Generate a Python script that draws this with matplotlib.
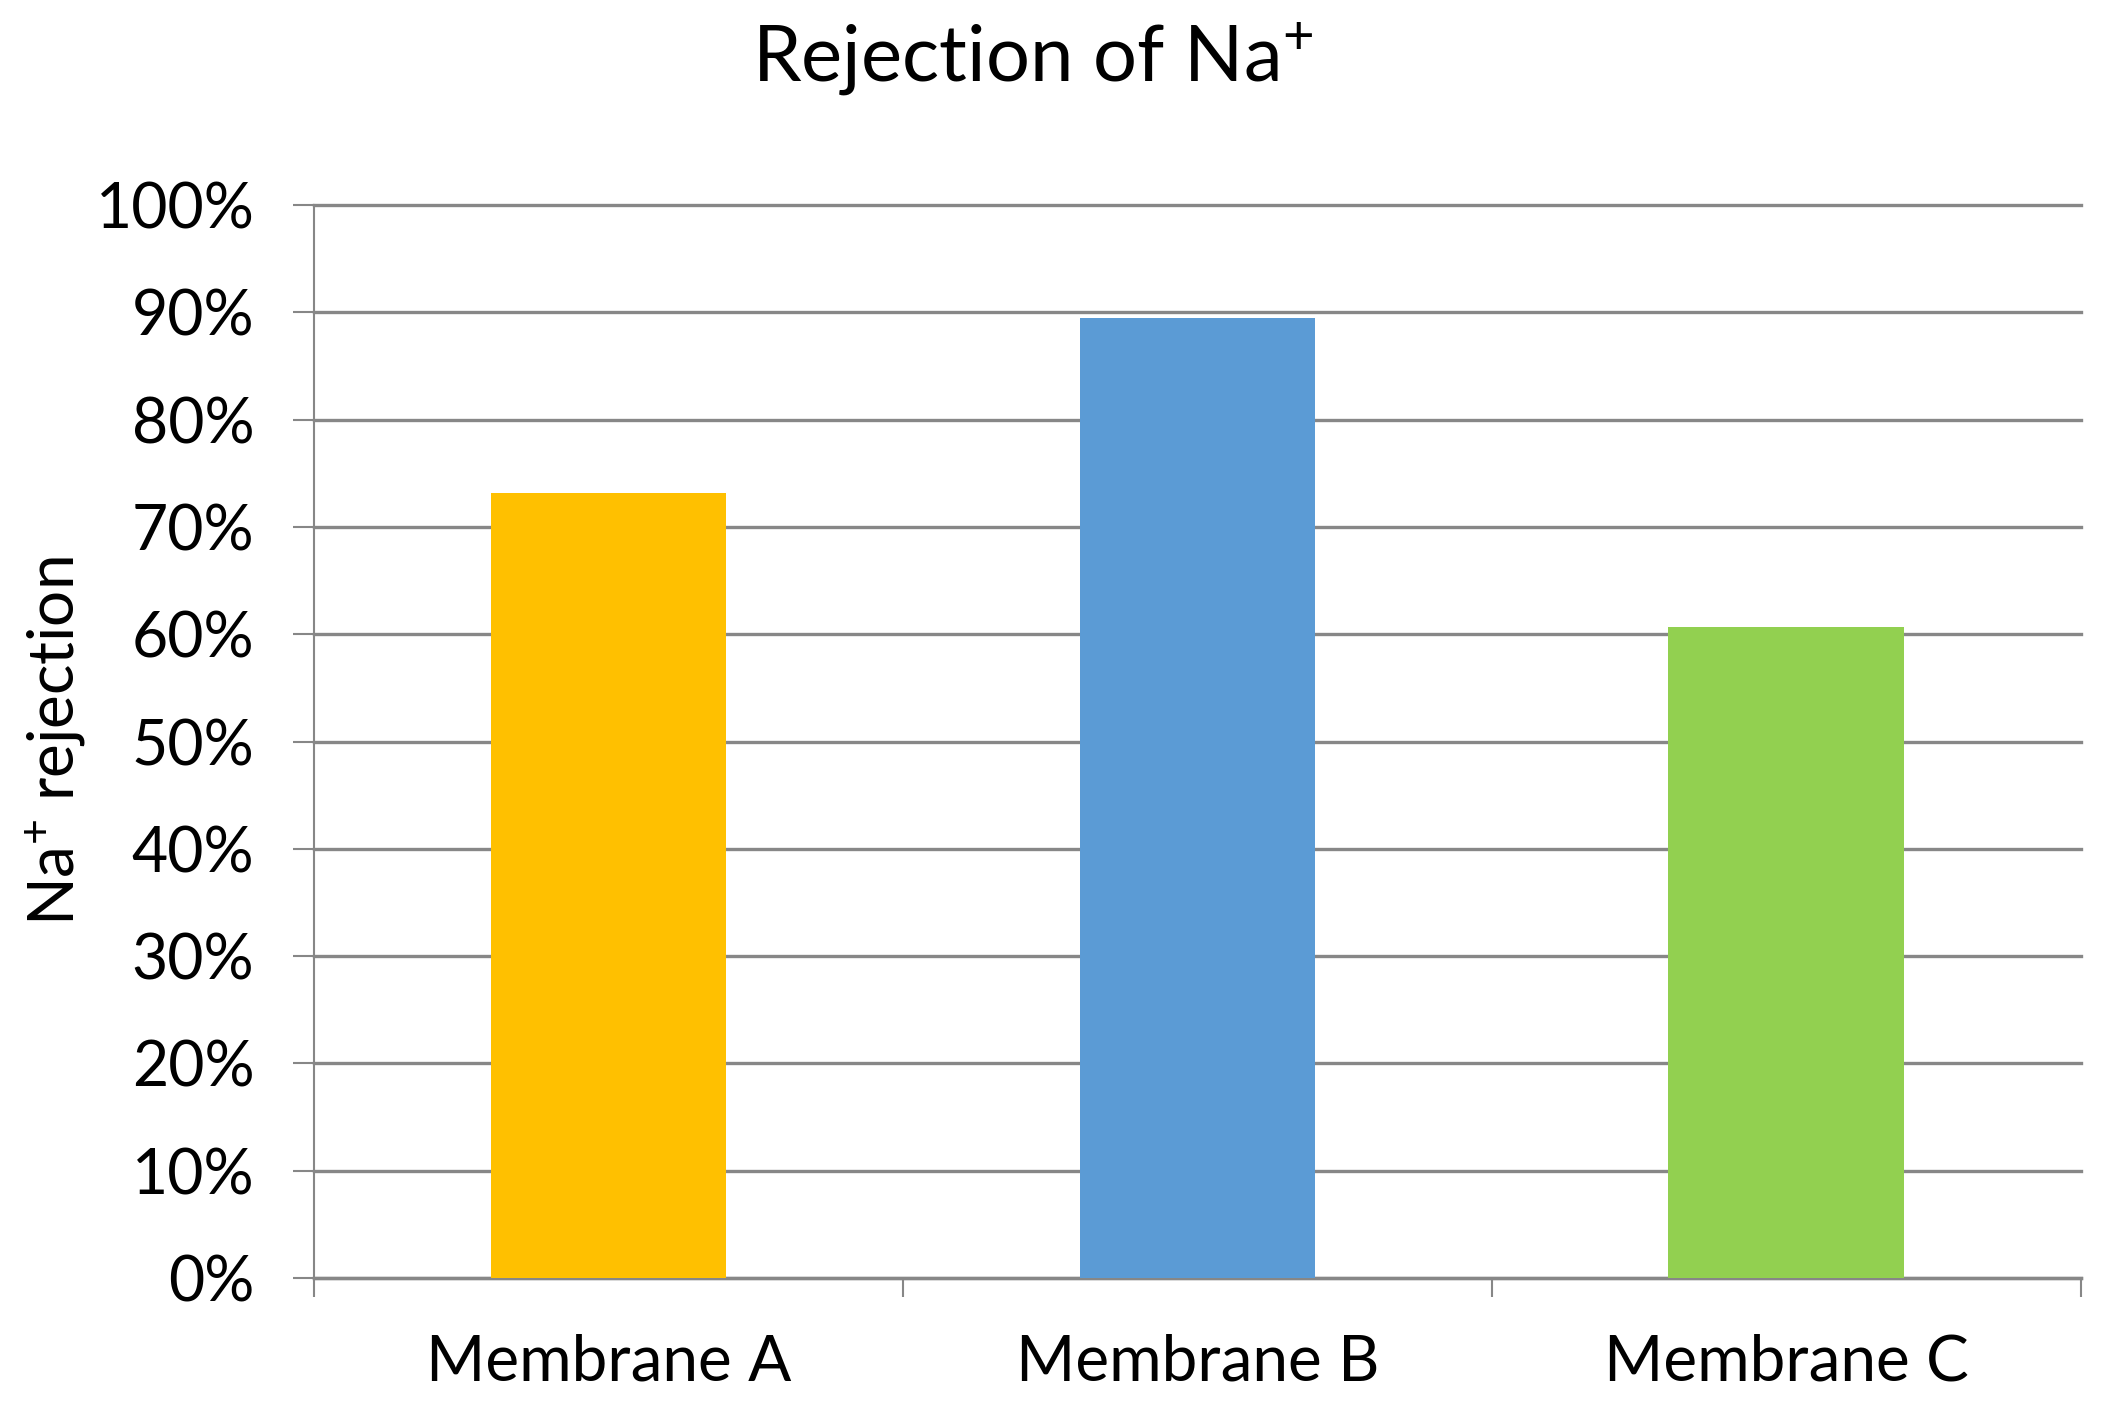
import numpy as np
import matplotlib as mpl
mpl.use("Agg")
import matplotlib.pyplot as plt
from matplotlib.ticker import FuncFormatter

mpl.rcParams.update({
    "font.family": ["Lato", "DejaVu Sans"],
    "mathtext.fontset": "custom", "mathtext.rm": "Lato", "mathtext.it": "Lato",
})

# data
membranes = ["Membrane A", "Membrane B", "Membrane C"]
rejection = [0.732, 0.895, 0.607]
bar_colors = ["#FFC000", "#5B9BD5", "#92D050"]
yticks = np.arange(0, 1.01, 0.1)

GRID = "#878787"

fig = plt.figure(figsize=(21.08, 14.08), dpi=100)
ax = fig.add_axes([0.149, 0.0923, 0.838, 0.7621])

x = np.arange(len(membranes))
ax.bar(x, rejection, 0.4, color=bar_colors, zorder=3)
for t in yticks:
    ax.axhline(t, color=GRID, lw=2.4, zorder=1, clip_on=False)

ax.set_xlim(-0.5, len(membranes) - 0.5)
ax.set_ylim(0, 1.0)
ax.set_yticks(yticks)
ax.yaxis.set_major_formatter(FuncFormatter(lambda v, _: f"{v*100:.0f}%"))
ax.tick_params(axis="y", direction="out", length=15, width=1.5, color=GRID, pad=28, labelsize=45)

ax.set_xticks(x)
ax.set_xticklabels(membranes)
ax.set_xticks(np.arange(-0.5, len(membranes)), minor=True)
ax.tick_params(axis="x", which="major", length=0, pad=40, labelsize=46)
ax.tick_params(axis="x", which="minor", direction="out", length=14, width=1.5, color=GRID)

for s in ("top", "right"):
    ax.spines[s].set_visible(False)
ax.spines["left"].set_color(GRID)
ax.spines["left"].set_linewidth(1.5)
ax.spines["bottom"].set_color(GRID)
ax.spines["bottom"].set_linewidth(2.4)

ax.set_ylabel("Na$^{+}$ rejection", fontsize=46)
ax.yaxis.set_label_coords(-0.128, 0.5)
fig.suptitle("Rejection of Na$^{+}$", fontsize=56, x=0.49, y=0.985)

fig.savefig("out.png", dpi=100)
